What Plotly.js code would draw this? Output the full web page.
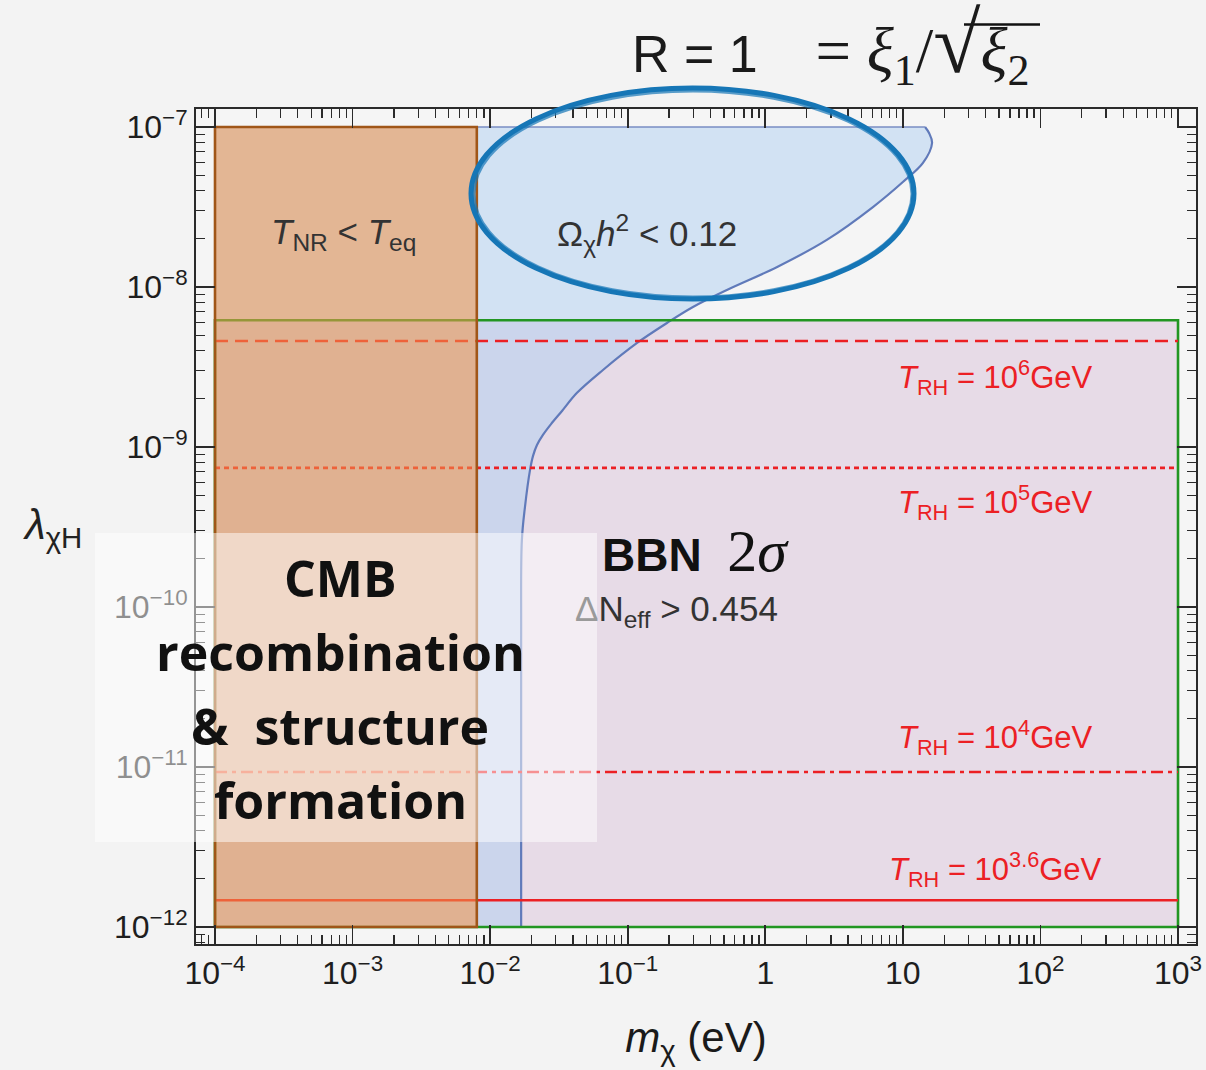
<!DOCTYPE html>
<html>
<head>
<meta charset="utf-8">
<script src="https://cdn.plot.ly/plotly-3.0.1.min.js"></script>
<style>html,body{margin:0;padding:0;background:#f3f3f3;}</style>
</head>
<body>
<div id="chart" style="width:1206px;height:1070px;"></div>
<script>
// ---------- data ----------
const massMin = 1e-4;            // eV, left edge of plotted regions
const massMax = 1e3;             // eV, right edge of plotted regions
const lamMin = 1e-12;            // bottom of regions
const lamMax = 1e-7;             // top of regions
const cmbMassMax = 8e-3;         // T_NR < T_eq region upper mass (eV)
const bbnLamMax = 6.2e-9;        // BBN 2σ excluded region upper coupling

// relic-abundance boundary Ωχh² = 0.12
const relicX = [0.0168, 0.0168, 0.0170, 0.0179, 0.0195, 0.0205, 0.0219, 0.0242, 0.0277, 0.0333, 0.0428, 0.0661, 0.117, 0.193, 0.298, 0.526, 1.21, 2.80, 6.06, 10.0, 14.0, 16.3, 15.5, 14.5];
const relicY = [1e-12, 6.2e-11, 2.6e-10, 4.2e-10, 7.2e-10, 8.8e-10, 1.03e-9, 1.19e-9, 1.39e-9, 1.68e-9, 2.18e-9, 3.03e-9, 4.47e-9, 5.96e-9, 7.5e-9, 9.58e-9, 1.33e-8, 1.97e-8, 3.16e-8, 4.53e-8, 5.96e-8, 7.94e-8, 9.17e-8, 1e-7];

// reheating-temperature lines
const trhLambda = [4.6e-9, 7.4e-10, 9.3e-12, 1.47e-12];
const trhExp = ['6', '5', '4', '3.6'];
const trhLabelLambda = [2.7e-9, 4.47e-10, 1.52e-11, 2.3e-12];
const trhLabelMass = 47;

// tick labels
const xTickVals = [1e-4, 1e-3, 1e-2, 1e-1, 1, 10, 100, 1000];
const xTickText = ['10<sup>−4</sup>', '10<sup>−3</sup>', '10<sup>−2</sup>', '10<sup>−1</sup>', '1', '10', '10<sup>2</sup>', '10<sup>3</sup>'];
const yTickVals = [1e-12, 1e-11, 1e-10, 1e-9, 1e-8, 1e-7];
const yTickText = ['10<sup>−12</sup>', '10<sup>−11</sup>', '10<sup>−10</sup>', '10<sup>−9</sup>', '10<sup>−8</sup>', '10<sup>−7</sup>'];

// ---------- helpers ----------
function minorTicks(d0, d1) {
  const out = [];
  for (let d = d0; d <= d1; d++) for (let k = 2; k <= 9; k++) out.push(k * Math.pow(10, d));
  return out;
}
// plot area in pixels: left 196, right 1196, top 109, bottom 944
const PX = x => (x - 196) / 1000;
const PY = y => (944 - y) / 835;

const red = 'rgb(236,32,36)';
const traces = [];

// BBN excluded region (pink)
traces.push({
  type: 'scatter', mode: 'lines', name: 'BBN 2σ',
  x: [massMin, massMax, massMax, massMin],
  y: [lamMin, lamMin, bbnLamMax, bbnLamMax],
  fill: 'toself', fillcolor: 'rgb(231,219,231)', line: {width: 0}, hoverinfo: 'skip'
});
// relic region (light blue)
traces.push({
  type: 'scatter', mode: 'lines', name: 'Ωχh² < 0.12',
  x: [massMin].concat(relicX, [massMin]),
  y: [lamMin].concat(relicY, [lamMax]),
  fill: 'toself', fillcolor: 'rgba(176,208,242,0.5)', line: {width: 0}, hoverinfo: 'skip'
});
// relic boundary line
traces.push({
  type: 'scatter', mode: 'lines', x: relicX, y: relicY,
  line: {color: 'rgb(96,122,186)', width: 2.2, shape: 'spline', smoothing: 1}, hoverinfo: 'skip'
});
traces.push({
  type: 'scatter', mode: 'lines', x: [cmbMassMax, relicX[relicX.length - 1]], y: [lamMax, lamMax],
  line: {color: 'rgb(120,140,195)', width: 1.5}, hoverinfo: 'skip'
});
// BBN border (green)
traces.push({
  type: 'scatter', mode: 'lines',
  x: [massMin, massMax, massMax, massMin, massMin],
  y: [lamMin, lamMin, bbnLamMax, bbnLamMax, lamMin],
  line: {color: 'rgb(34,150,34)', width: 2.6}, hoverinfo: 'skip'
});
// T_RH lines
const dashes = ['13px,7px', '5px,4px', '12px,5px,4px,5px', 'solid'];
trhLambda.forEach((v, i) => {
  traces.push({
    type: 'scatter', mode: 'lines', name: 'T_RH = 10^' + trhExp[i] + ' GeV',
    x: [massMin, massMax], y: [v, v],
    line: {color: red, width: 2.6, dash: dashes[i]}, hoverinfo: 'skip'
  });
});
// T_NR < T_eq region (orange)
traces.push({
  type: 'scatter', mode: 'lines', name: 'T_NR < T_eq',
  x: [massMin, cmbMassMax, cmbMassMax, massMin, massMin],
  y: [lamMin, lamMin, lamMax, lamMax, lamMin],
  fill: 'toself', fillcolor: 'rgba(240,150,76,0.57)',
  line: {color: 'rgb(160,86,24)', width: 2.6}, hoverinfo: 'skip'
});

// ---------- annotations ----------
const base = 'Liberation Sans, Arial, sans-serif';
const ann = [];
function A(text, x, y, size, color, extra) {
  ann.push(Object.assign({text: text, x: PX(x), y: PY(y), xref: 'paper', yref: 'paper',
    xanchor: 'center', yanchor: 'middle', showarrow: false,
    font: {family: base, size: size, color: color}}, extra || {}));
}
A('<i>T</i><sub>NR</sub> &lt; <i>T</i><sub>eq</sub>', 343, 234, 35, '#333');
A('Ω<sub>χ</sub><i>h</i><sup>2</sup> &lt; 0.12', 647, 233, 35, '#333');
// T_RH labels placed in data coords (log axes -> log10 values)
trhExp.forEach((e, i) => {
  ann.push({text: '<i>T</i><sub>RH</sub> = 10<sup>' + e + '</sup>GeV',
    x: Math.log10(trhLabelMass), y: Math.log10(trhLabelLambda[i]), xref: 'x', yref: 'y',
    xanchor: 'center', yanchor: 'middle', showarrow: false,
    font: {family: base, size: 31, color: red}});
});
A('<b>BBN</b>  <span style="font-family:Liberation Serif;font-size:60px">2<i>σ</i></span>', 695, 551, 46, '#111');
A('<span style="color:#9a9a9a">Δ</span>N<sub>eff</sub> &gt; 0.454', 676, 611, 35, '#333');
const cmbFont = 'Open Sans, Noto Sans, sans-serif';
const cmbLines = ['CMB', 'recombination', '&amp;  structure', 'formation'];
const cmbY = [578, 652, 726, 800];
cmbLines.forEach((t, i) => A('<b>' + t + '</b>', 340, cmbY[i], 50, '#111', {font: {family: cmbFont, size: 50, color: '#111'}}));
// y-axis label (horizontal)
A('<i>λ</i><sub>χH</sub>', 52, 527, 42, '#222');

// ---------- shapes ----------
const shapes = [
  {type: 'rect', xref: 'paper', yref: 'paper', x0: PX(95), x1: PX(597), y0: PY(842), y1: PY(533),
   fillcolor: 'rgba(255,255,255,0.5)', line: {width: 0}, layer: 'above'},
  {type: 'circle', xref: 'paper', yref: 'paper', x0: PX(471), x1: PX(914), y0: PY(299), y1: PY(88),
   line: {color: 'rgb(22,118,182)', width: 5}, layer: 'above'},
  {type: 'circle', xref: 'paper', yref: 'paper', x0: PX(474), x1: PX(912), y0: PY(297), y1: PY(91),
   line: {color: 'rgba(22,118,182,0.7)', width: 3}, layer: 'above'},
  // overbar of the square root in the title
  {type: 'line', xref: 'paper', yref: 'paper', x0: PX(964), x1: PX(1040), y0: PY(24.5), y1: PY(24.5),
   line: {color: '#111', width: 2.5}, layer: 'above'}
];

const axisCommon = {
  type: 'log', showline: true, linecolor: '#2a2a2a', linewidth: 2, mirror: 'allticks',
  ticks: 'inside', ticklen: 19, tickwidth: 1.6, tickcolor: '#2a2a2a',
  showgrid: false, zeroline: false,
  tickfont: {family: base, size: 32, color: '#1e1e1e'}
};

const layout = {
  width: 1206, height: 1070,
  paper_bgcolor: '#f3f3f3', plot_bgcolor: '#f5f5f5',
  margin: {l: 196, r: 10, t: 109, b: 126},
  showlegend: false,
  title: {text: 'R = 1\u00a0\u00a0\u00a0\u00a0<span style="font-family:Liberation Serif;font-size:63px">= <i>ξ</i><sub>1</sub>/<span style="font-size:86px">√</span><i>ξ</i><sub>2</sub></span>',
    x: 632 / 1206, xanchor: 'left', xref: 'container', y: 1 - 54 / 1070, yref: 'container', yanchor: 'middle',
    font: {family: base, size: 52, color: '#1a1a1a'}},
  xaxis: Object.assign({}, axisCommon, {
    range: [-4.1381, 3.1308], tickvals: xTickVals, ticktext: xTickText,
    minor: {tickvals: minorTicks(-5, 3), ticks: 'inside', ticklen: 9, tickwidth: 1.3, tickcolor: '#2a2a2a', showgrid: false},
    title: {text: '<i>m</i><sub>χ</sub> (eV)', font: {family: base, size: 42, color: '#1a1a1a'}, standoff: 32}
  }),
  yaxis: Object.assign({}, axisCommon, {
    range: [-12.10625, -6.8875], tickvals: yTickVals, ticktext: yTickText,
    minor: {tickvals: minorTicks(-13, -7), ticks: 'inside', ticklen: 9, tickwidth: 1.3, tickcolor: '#2a2a2a', showgrid: false}
  }),
  annotations: ann,
  shapes: shapes
};

Plotly.newPlot('chart', traces, layout, {staticPlot: true, displayModeBar: false});
</script>
</body>
</html>
